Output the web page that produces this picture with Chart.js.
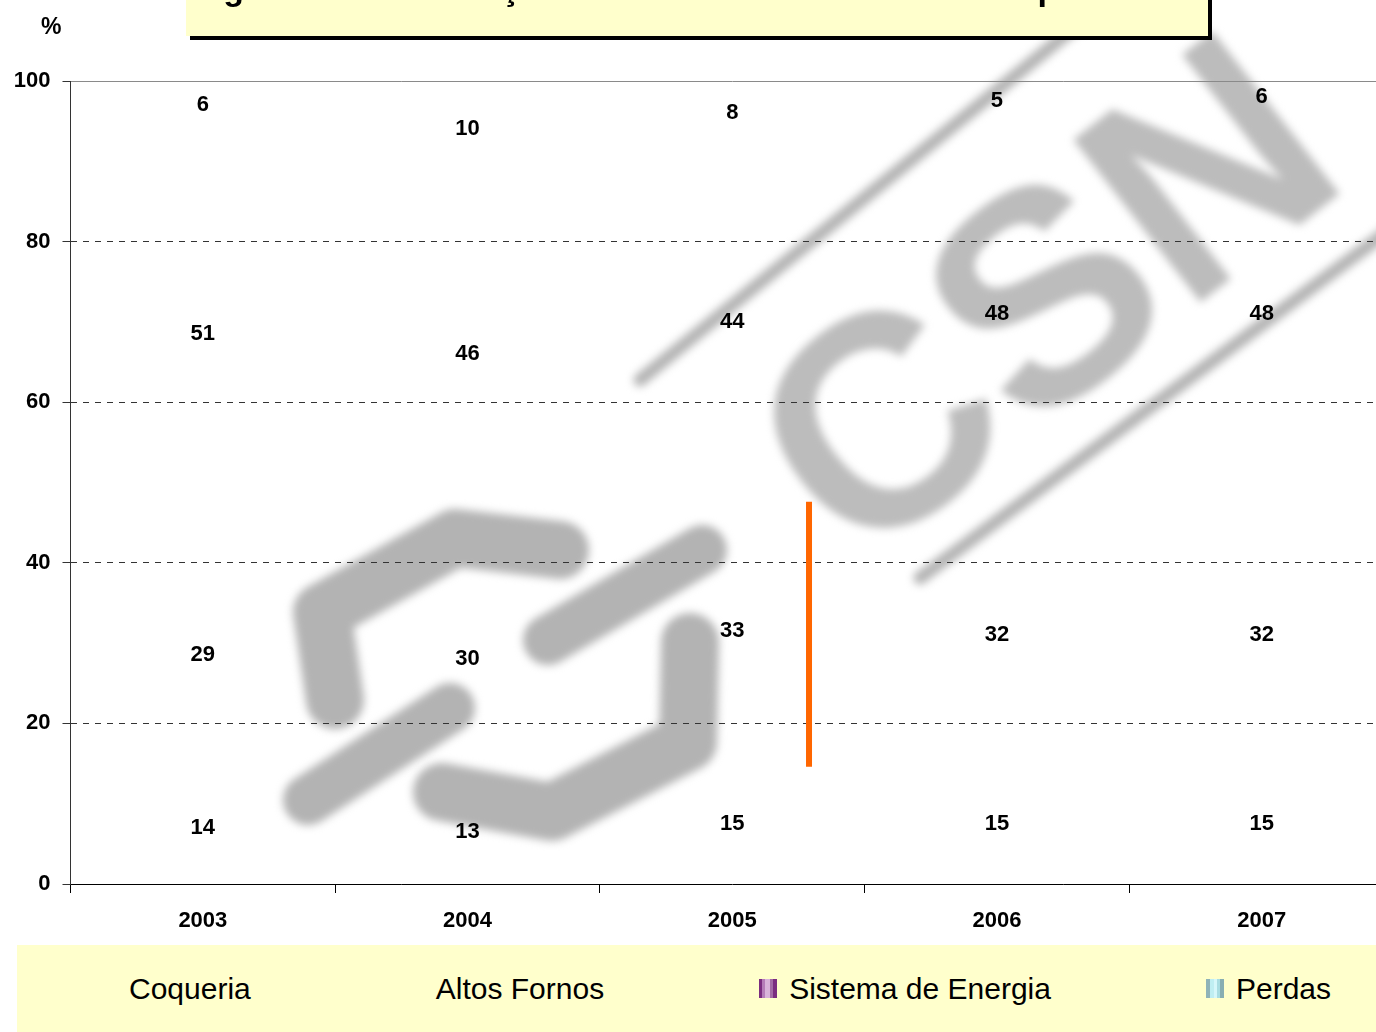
<!DOCTYPE html>
<html>
<head>
<meta charset="utf-8">
<script src="https://cdn.jsdelivr.net/npm/chart.js@4.4.0/dist/chart.umd.min.js"></script>
<style>
  html, body { margin: 0; padding: 0; background: #fff; overflow: hidden; width: 1376px; height: 1032px; position: relative; font-family: "Liberation Sans", Arial, sans-serif; }
  #wrap { position: absolute; left: 0; top: 0; width: 1400px; height: 945px; }
  .title-box { position: absolute; left: 186px; top: -70px; width: 1022px; height: 106px; background: #ffffcc; box-shadow: 4px 4px 0 #000; overflow: hidden; z-index: 2; }
  .title-box span { position: absolute; left: 7px; top: 41px; font-weight: bold; font-size: 34px; line-height: 34px; white-space: nowrap; }
  .unit { position: absolute; left: 41px; top: 13px; font-weight: bold; font-size: 23px; z-index: 2; }
  .legend { position: absolute; left: 17px; top: 945px; width: 1380px; height: 87px; background: #ffffcc; display: flex; align-items: center; gap: 155px; padding-left: 82px; box-sizing: border-box; }
  .legend .item { display: flex; align-items: center; font-size: 30px; color: #000; white-space: nowrap; }
  .legend .box { width: 18px; height: 19px; margin-right: 12px; }
</style>
</head>
<body>
<div class="title-box"><span>Figura 3 – Distribuição do Consumo de Eletricidade por Área</span></div>
<div class="unit">%</div>
<div id="wrap"><canvas id="chart"></canvas></div>
<div class="legend" id="legend"></div>

<script>
// dados (participação % por área)
const years = ['2003', '2004', '2005', '2006', '2007']
const seriesNames = ['Coqueria', 'Altos Fornos', 'Sistema de Energia', 'Perdas']
const coqueria = [14, 13, 15, 15, 15]
const altosFornos = [29, 30, 33, 32, 32]
const sistemaEnergia = [51, 46, 44, 48, 48]
const perdas = [6, 10, 8, 5, 6]
const yTicks = [0, 20, 40, 60, 80, 100]
// traço laranja: posição na escala de categorias, valor inicial, valor final
const orangeMark = [2.29, 14.6, 47.6]

// marcadores da legenda (as duas primeiras séries não têm marcador visível)
const legendSwatch = [
  'none',
  'none',
  'linear-gradient(90deg,#7b2d80 0 17%,#b57cb8 17% 34%,#d9b3da 34% 60%,#a36aa6 60% 80%,#7b2d80 80%)',
  'linear-gradient(90deg,#8fb3b8 0 22%,#bfeef2 22% 45%,#d6f7fa 45% 62%,#a9dde2 62% 80%,#88aeb2 80%)',
]

const seriesData = [coqueria, altosFornos, sistemaEnergia, perdas]
const labelFont = 'bold 22px "Liberation Sans", Arial, sans-serif'

// marca d'água CSN (decoração de fundo)
const watermark = {
  id: 'watermark',
  beforeDraw(chart) {
    const ctx = chart.ctx
    ctx.save()
    ctx.filter = 'blur(4px)'
    ctx.fillStyle = ctx.strokeStyle = '#b3b3b3'
    ctx.lineCap = 'round'
    ctx.lineJoin = 'round'
    const poly = (pts, w) => {
      ctx.lineWidth = w
      ctx.beginPath()
      pts.forEach((p, i) => i ? ctx.lineTo(p[0], p[1]) : ctx.moveTo(p[0], p[1]))
      ctx.stroke()
    }
    poly([[640, 380], [1090, 15]], 13)
    poly([[920, 578], [1410, 215]], 13)
    poly([[560, 550], [455, 538], [322, 612], [335, 700]], 58)
    poly([[548, 640], [702, 550]], 50)
    poly([[308, 800], [450, 708]], 50)
    poly([[442, 792], [552, 812], [688, 742], [690, 642]], 58)
    ctx.fillStyle = '#bcbcbc'
    ctx.translate(1040, 292)
    ctx.rotate(-38 * Math.PI / 180)
    ctx.font = 'bold 300px "Liberation Sans", Arial, sans-serif'
    ctx.textAlign = 'center'
    ctx.textBaseline = 'alphabetic'
    ctx.fillText('CSN', 0, 107)
    ctx.restore()
  }
}

// rótulos de valor no centro de cada segmento + traço laranja
const valueLabels = {
  id: 'valueLabels',
  afterDatasetsDraw(chart) {
    const ctx = chart.ctx
    const { x, y } = chart.scales
    ctx.save()
    ctx.strokeStyle = '#ff6600'
    ctx.lineWidth = 6
    ctx.beginPath()
    ctx.moveTo(x.getPixelForValue(orangeMark[0]), y.getPixelForValue(orangeMark[1]))
    ctx.lineTo(x.getPixelForValue(orangeMark[0]), y.getPixelForValue(orangeMark[2]))
    ctx.stroke()

    ctx.font = labelFont
    ctx.fillStyle = '#000'
    ctx.textAlign = 'center'
    ctx.textBaseline = 'middle'
    chart.data.datasets.forEach((ds, di) => {
      chart.getDatasetMeta(di).data.forEach((bar, i) => {
        ctx.fillText(ds.data[i], bar.x, (bar.y + bar.base) / 2)
      })
    })
    ctx.restore()
  }
}

const tickFont = { size: 22, weight: 'bold', family: '"Liberation Sans", Arial, sans-serif' }

new Chart(document.getElementById('chart'), {
  type: 'bar',
  data: {
    labels: years,
    datasets: seriesNames.map((name, i) => ({
      label: name,
      data: seriesData[i],
      backgroundColor: 'rgba(0,0,0,0)',
      borderWidth: 0,
      xAxisID: 'x',
    })),
  },
  options: {
    responsive: true,
    maintainAspectRatio: false,
    animation: false,
    layout: { padding: { top: 81, right: 6, left: 0, bottom: 0 } },
    plugins: { legend: { display: false }, tooltip: { enabled: false } },
    scales: {
      x: {
        stacked: true,
        offset: true,
        grid: { drawOnChartArea: false, offset: true, tickLength: 9, color: '#000', tickColor: '#000' },
        border: { color: '#000', width: 1 },
        ticks: { font: tickFont, color: '#000', padding: 15, maxRotation: 0 },
        afterFit(s) { s.height = 61 },
      },
      xTop: {
        type: 'category',
        position: 'top',
        grid: { display: false, drawTicks: false },
        border: { color: '#8a8a8a', width: 1 },
        ticks: { display: false },
        afterFit(s) { s.height = 0 },
      },
      y: {
        stacked: true,
        min: 0,
        max: 100,
        afterBuildTicks(s) { s.ticks = yTicks.map(v => ({ value: v })) },
        ticks: { font: tickFont, color: '#000', padding: 12 },
        grid: {
          color: c => (c.tick && (c.tick.value === 0 || c.tick.value === 100)) ? 'rgba(0,0,0,0)' : '#333',
          tickColor: '#333',
          tickLength: 8,
        },
        border: { color: '#333', width: 1, dash: [6, 6] },
        afterFit(s) { s.width = 70.5 },
      },
    },
  },
  plugins: [watermark, valueLabels],
})

// legenda em HTML (fundo amarelo, espaçamento largo como no original)
const legendEl = document.getElementById('legend')
seriesNames.forEach((name, i) => {
  const item = document.createElement('div')
  item.className = 'item'
  const box = document.createElement('span')
  box.className = 'box'
  box.style.background = legendSwatch[i]
  item.appendChild(box)
  item.appendChild(document.createTextNode(name))
  legendEl.appendChild(item)
})
</script>
</body>
</html>
